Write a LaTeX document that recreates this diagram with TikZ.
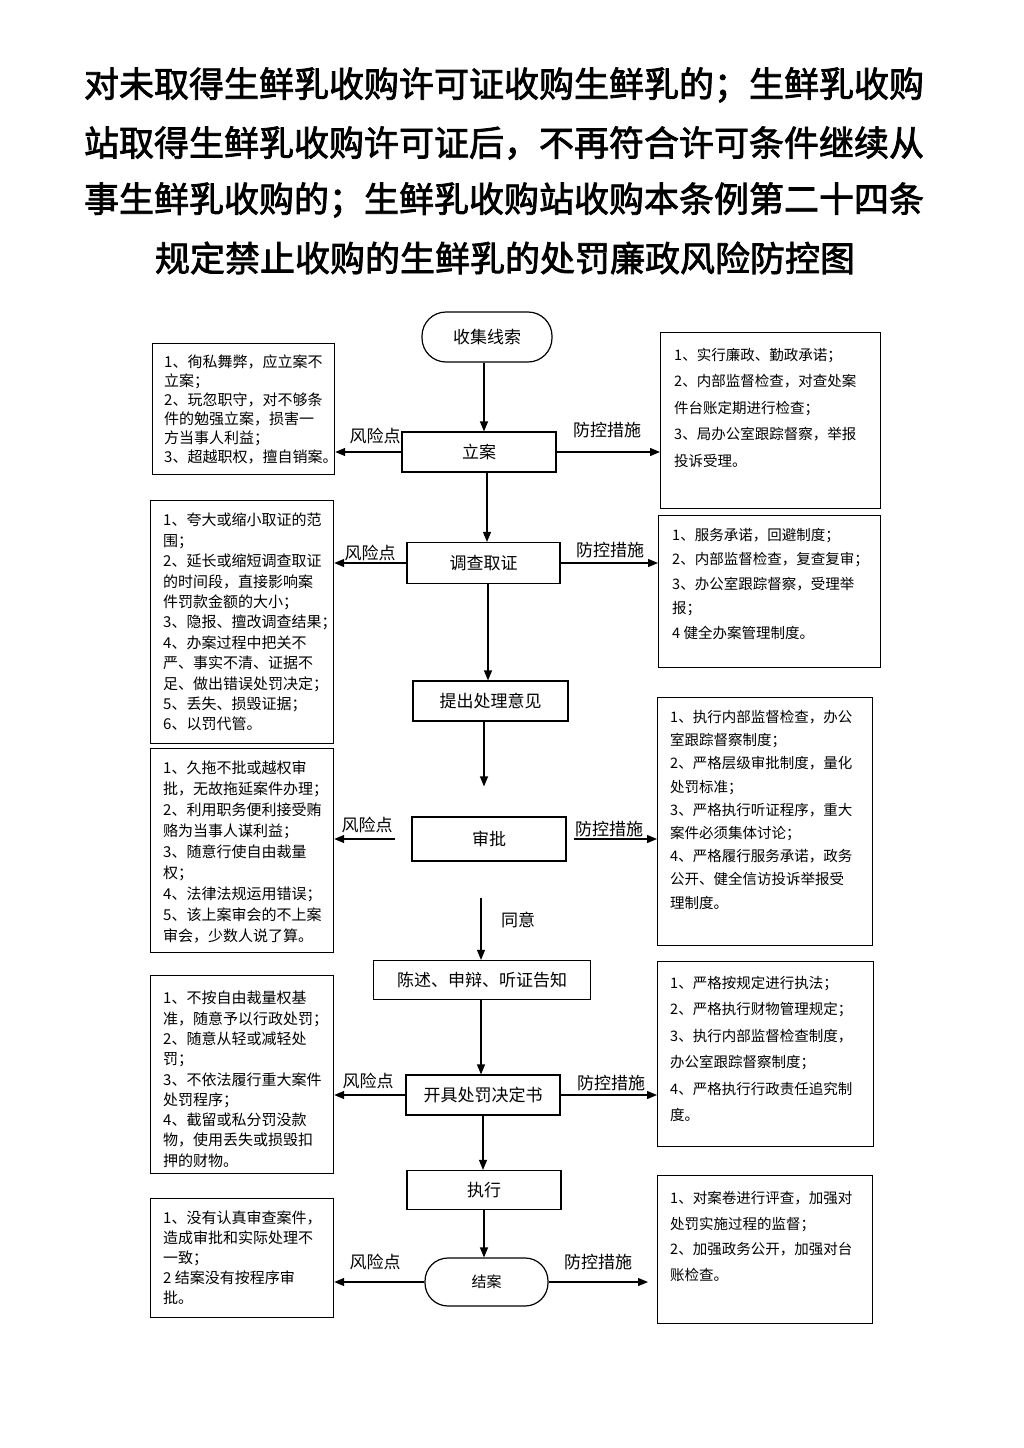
\documentclass[tikz,border=0pt]{standalone}
\usepackage{fontspec}
\setmainfont{Noto Sans CJK SC}
\newfontfamily\ttlfont{Noto Sans CJK SC}[FakeBold=2.2]
\usetikzlibrary{arrows.meta,calc}
\begin{document}
\begin{tikzpicture}[x=1pt,y=-1pt,
  box/.style={draw, line width=1.2pt, inner sep=0pt, anchor=north west},
  flow/.style={draw, line width=1.2pt, inner sep=0pt, font=\fontsize{17}{20}\selectfont},
  arr/.style={line width=1.2pt, -{Triangle[length=10pt,width=8pt]}},
  lab/.style={font=\fontsize{17}{20}\selectfont, inner sep=0pt},
  ltxt/.style={anchor=north west, align=left, inner sep=0pt, font=\fontsize{15}{#1}\selectfont},
  rtxt/.style={anchor=north west, align=left, inner sep=0pt, font=\fontsize{14.5}{#1}\selectfont},
  ttl/.style={inner sep=0pt, font=\fontsize{35}{35}\ttlfont}]
\fill[white] (0,0) rectangle (1024,1448);
\useasboundingbox (0,0) rectangle (1024,1448);

% title
\node[ttl] (t1) at (504,85) {对未取得生鲜乳收购许可证收购生鲜乳的；生鲜乳收购};
\node[ttl] (t2) at (504,143) {站取得生鲜乳收购许可证后，不再符合许可条件继续从};
\node[ttl] (t3) at (504,200) {事生鲜乳收购的；生鲜乳收购站收购本条例第二十四条};
\node[ttl] (t4) at (505,258) {规定禁止收购的生鲜乳的处罚廉政风险防控图};

% flow nodes
\node[flow, rounded corners=24pt, minimum width=130pt, minimum height=50pt] (n0) at (487,337) {收集线索};
\node[flow, minimum width=154pt, minimum height=40pt] (n1) at (479,452) {立案};
\node[flow, minimum width=153pt, minimum height=41pt] (n2) at (483.5,563) {调查取证};
\node[flow, minimum width=155pt, minimum height=40pt] (n3) at (490.5,701) {提出处理意见};
\node[flow, minimum width=154pt, minimum height=44pt] (n4) at (489,839) {审批};
\node[flow, minimum width=217pt, minimum height=39pt] (n5) at (482,980) {陈述、申辩、听证告知};
\node[flow, minimum width=154pt, minimum height=40pt] (n6) at (483,1095) {开具处罚决定书};
\node[flow, minimum width=154pt, minimum height=39pt] (n7) at (484,1190) {执行};
\node[flow, rounded corners=23pt, minimum width=123pt, minimum height=48pt, font=\fontsize{15}{18}\selectfont] (n8) at (486.5,1282) {结案};

% vertical arrows
\draw[arr] ([xshift=-3pt]n0.south) -- ([xshift=5pt]n1.north);
\draw[arr] ([xshift=8pt]n1.south) -- ([xshift=3.5pt]n2.north);
\draw[arr] ([xshift=4.5pt]n2.south) -- ([xshift=-2.5pt]n3.north);
\draw[arr] ([xshift=-6.5pt]n3.south) -- ([xshift=-5pt,yshift=30pt]n4.north);
\draw[arr] ([xshift=-8pt,yshift=-36pt]n4.south) -- ([xshift=-1pt]n5.north);
\node[lab] (ty) at (518,920) {同意};
\draw[arr] ([xshift=-1pt]n5.south) -- ([xshift=-2pt]n6.north);
\draw[arr] (n6.south) -- ([xshift=-1pt]n7.north);
\draw[arr] (n7.south) -- ([xshift=-2.5pt]n8.north);

% side boxes
\node[box, minimum width=182pt, minimum height=131pt] (L1) at (152,343) {};
\node[box, minimum width=220pt, minimum height=176pt] (R1) at (660,332) {};
\node[box, minimum width=183pt, minimum height=243pt] (L2) at (150,500) {};
\node[box, minimum width=222pt, minimum height=152pt] (R2) at (658,515) {};
\node[box, minimum width=183pt, minimum height=204pt] (L3) at (150,748) {};
\node[box, minimum width=215pt, minimum height=248pt] (R3) at (657,697) {};
\node[box, minimum width=183pt, minimum height=198pt] (L4) at (150,975) {};
\node[box, minimum width=216pt, minimum height=185pt] (R4) at (657,961) {};
\node[box, minimum width=183pt, minimum height=119pt] (L5) at (150,1198) {};
\node[box, minimum width=215pt, minimum height=148pt] (R5) at (657,1175) {};

% side texts
\node[ltxt=19] (L1t) at (164,355) {1、徇私舞弊，应立案不\\立案；\\2、玩忽职守，对不够条\\件的勉强立案，损害一\\方当事人利益；\\3、超越职权，擅自销案。};
\node[rtxt=26.5] (R1t) at (674,348) {1、实行廉政、勤政承诺；\\2、内部监督检查，对查处案\\件台账定期进行检查；\\3、局办公室跟踪督察，举报\\投诉受理。};
\node[ltxt=20.4] (L2t) at (163,513) {1、夸大或缩小取证的范\\围；\\2、延长或缩短调查取证\\的时间段，直接影响案\\件罚款金额的大小；\\3、隐报、擅改调查结果；\\4、办案过程中把关不\\严、事实不清、证据不\\足、做出错误处罚决定；\\5、丢失、损毁证据；\\6、以罚代管。};
\node[rtxt=24.5] (R2t) at (672,528) {1、服务承诺，回避制度；\\2、内部监督检查，复查复审；\\3、办公室跟踪督察，受理举\\报；\\4 健全办案管理制度。};
\node[ltxt=21] (L3t) at (163,761) {1、久拖不批或越权审\\批，无故拖延案件办理；\\2、利用职务便利接受贿\\赂为当事人谋利益；\\3、随意行使自由裁量\\权；\\4、法律法规运用错误；\\5、该上案审会的不上案\\审会，少数人说了算。};
\node[rtxt=23.2] (R3t) at (670,710) {1、执行内部监督检查，办公\\室跟踪督察制度；\\2、严格层级审批制度，量化\\处罚标准；\\3、严格执行听证程序，重大\\案件必须集体讨论；\\4、严格履行服务承诺，政务\\公开、健全信访投诉举报受\\理制度。};
\node[ltxt=20.3] (L4t) at (163,991) {1、不按自由裁量权基\\准，随意予以行政处罚；\\2、随意从轻或减轻处\\罚；\\3、不依法履行重大案件\\处罚程序；\\4、截留或私分罚没款\\物，使用丢失或损毁扣\\押的财物。};
\node[rtxt=26.4] (R4t) at (670,976) {1、严格按规定进行执法；\\2、严格执行财物管理规定；\\3、执行内部监督检查制度，\\办公室跟踪督察制度；\\4、严格执行行政责任追究制\\度。};
\node[ltxt=20] (L5t) at (163,1211) {1、没有认真审查案件，\\造成审批和实际处理不\\一致；\\2 结案没有按程序审\\批。};
\node[rtxt=25.7] (R5t) at (670,1191) {1、对案卷进行评查，加强对\\处罚实施过程的监督；\\2、加强政务公开，加强对台\\账检查。};

% side arrows and labels
\draw[arr] (n1.west) -- (n1.west -| L1.east);
\draw[arr] (n1.east) -- (n1.east -| R1.west);
\node[lab] (r1) at (375,436) {风险点};
\node[lab] (p1) at (607,430) {防控措施};

\draw[arr] (n2.west) -- (n2.west -| L2.east);
\draw[arr] (n2.east) -- (n2.east -| R2.west);
\node[lab] (r2) at (370,553) {风险点};
\node[lab] (p2) at (610,550) {防控措施};

\draw[arr] ([xshift=-16pt]n4.west) -- (n4.west -| L3.east);
\draw[arr] ([xshift=7pt]n4.east) -- (n4.east -| R3.west);
\node[lab] (r3) at (367,825) {风险点};
\node[lab] (p3) at (609,829) {防控措施};

\draw[arr] (n6.west) -- (n6.west -| L4.east);
\draw[arr] (n6.east) -- (n6.east -| R4.west);
\node[lab] (r4) at (368,1081) {风险点};
\node[lab] (p4) at (611,1083) {防控措施};

\draw[arr] (n8.west) -- (n8.west -| L5.east);
\draw[arr, shorten >=9pt] (n8.east) -- (n8.east -| R5.west);
\node[lab] (r5) at (375,1262) {风险点};
\node[lab] (p5) at (598,1262) {防控措施};
\end{tikzpicture}
\end{document}
